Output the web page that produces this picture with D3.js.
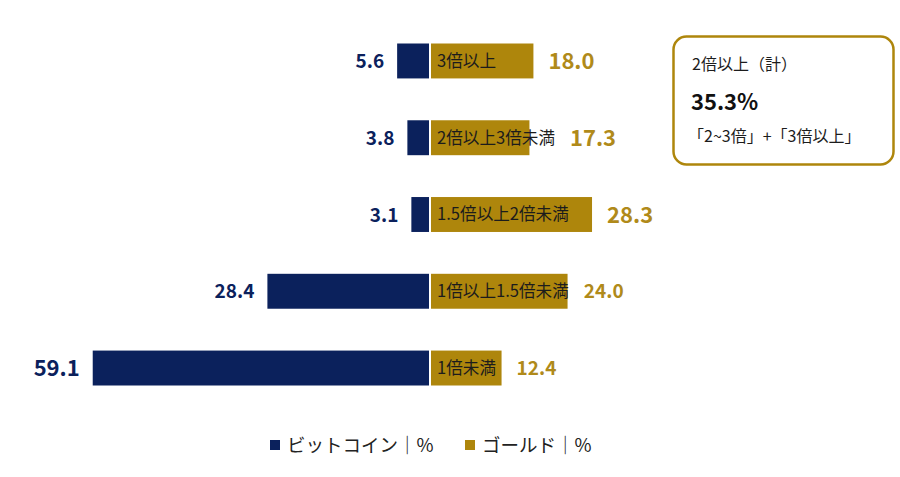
<!DOCTYPE html>
<html>
<head>
<meta charset="utf-8">
<script src="https://cdn.jsdelivr.net/npm/d3@7/dist/d3.min.js"></script>
<style>
  html, body { margin: 0; padding: 0; background: #fff; }
  svg { display: block; font-family: "Noto Sans CJK JP", "Noto Sans", sans-serif; }
</style>
</head>
<body>
<svg id="chart" width="900" height="477"></svg>
<script>
// ---- data ----
const categories = ["3倍以上", "2倍以上3倍未満", "1.5倍以上2倍未満", "1倍以上1.5倍未満", "1倍未満"];
const bitcoin = [5.6, 3.8, 3.1, 28.4, 59.1];
const gold = [18.0, 17.3, 28.3, 24.0, 12.4];
const seriesNames = ["ビットコイン｜%", "ゴールド｜%"];
const boxTitle = "2倍以上（計）";
const boxValue = "35.3%";
const boxNote = "「2~3倍」+「3倍以上」";

// label font sizes (style)
const bitcoinLabelSize = [19, 19, 19, 19, 22];
const goldLabelSize = [22, 22, 22, 19, 19];

const NAVY = "#0b215c";
const GOLD = "#ae860c";
const GOLD_TEXT = "#b08a1a";

const svg = d3.select("#chart");

const y = d3.scaleBand().domain(categories).range([43.5, 385.5]).paddingInner(0.545).paddingOuter(0);
const unit = 5.69;
const xL = d3.scaleLinear().domain([0, 60]).range([429, 429 - 60 * unit]);
const xR = d3.scaleLinear().domain([0, 60]).range([431, 431 + 60 * unit]);

const rows = categories.map((c, i) => ({ c, b: bitcoin[i], g: gold[i], i }));

// bitcoin bars
svg.append("g").selectAll("rect").data(rows).join("rect")
  .attr("x", d => xL(d.b)).attr("y", d => y(d.c))
  .attr("width", d => xL(0) - xL(d.b)).attr("height", y.bandwidth())
  .attr("fill", NAVY);

// gold bars
svg.append("g").selectAll("rect").data(rows).join("rect")
  .attr("x", xR(0)).attr("y", d => y(d.c))
  .attr("width", d => xR(d.g) - xR(0)).attr("height", y.bandwidth())
  .attr("fill", GOLD);

// category labels
const catLabels = svg.append("g").selectAll("text").data(rows).join("text")
  .attr("x", xR(0) + 6).attr("y", d => y(d.c) + y.bandwidth() / 2)
  .attr("dy", "0.36em")
  .attr("font-size", 16.6).attr("fill", "#1c1c1c")
  .text(d => d.c);

// bitcoin value labels
svg.append("g").selectAll("text").data(rows).join("text")
  .attr("x", d => xL(d.b) - 13).attr("y", d => y(d.c) + y.bandwidth() / 2)
  .attr("dy", "0.38em").attr("text-anchor", "end")
  .attr("font-size", d => bitcoinLabelSize[d.i]).attr("font-weight", 700)
  .attr("fill", NAVY)
  .text(d => d.b.toFixed(1));

// gold value labels
const catNodes = catLabels.nodes();
svg.append("g").selectAll("text").data(rows).join("text")
  .attr("x", d => {
    const tEnd = xR(0) + 6 + catNodes[d.i].getComputedTextLength();
    return Math.max(xR(d.g), tEnd) + 15;
  })
  .attr("y", d => y(d.c) + y.bandwidth() / 2)
  .attr("dy", "0.38em")
  .attr("font-size", d => goldLabelSize[d.i]).attr("font-weight", 700)
  .attr("fill", GOLD_TEXT)
  .text(d => d.g.toFixed(1));

// callout box
const box = svg.append("g");
box.append("rect").attr("x", 673.5).attr("y", 36.5).attr("width", 220).attr("height", 128)
  .attr("rx", 13).attr("fill", "#fff").attr("stroke", GOLD).attr("stroke-width", 2.5);
box.append("text").attr("x", 692).attr("y", 70).attr("font-size", 16).attr("fill", "#1c1c1c").text(boxTitle);
box.append("text").attr("x", 691).attr("y", 110).attr("font-size", 22).attr("font-weight", 700).attr("fill", "#111").text(boxValue);
box.append("text").attr("x", 688).attr("y", 142).attr("font-size", 16).attr("fill", "#1c1c1c").text(boxNote);

// legend
const legendX = [270, 465];
const legendColors = [NAVY, GOLD];
const lg = svg.append("g").selectAll("g").data(seriesNames).join("g")
  .attr("transform", (d, i) => `translate(${legendX[i]},440)`);
lg.append("rect").attr("width", 10).attr("height", 10).attr("fill", (d, i) => legendColors[i]);
lg.append("text").attr("x", 17).attr("y", 12).attr("font-size", 18.5).attr("fill", "#222").text(d => d);
</script>
</body>
</html>
